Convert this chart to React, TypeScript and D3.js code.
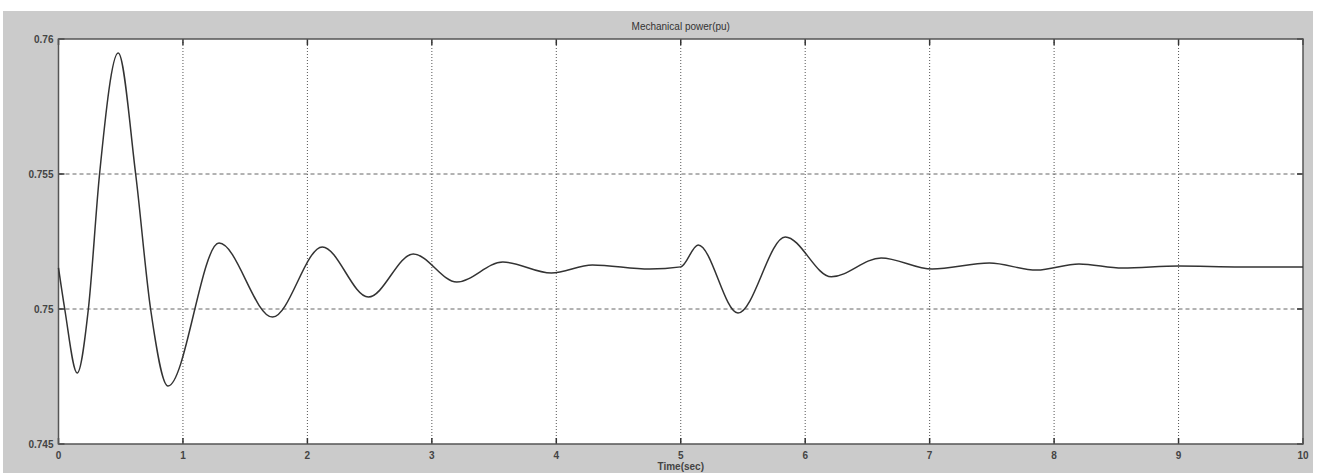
import * as d3 from "d3";

// mechanical power trace
const times = [
  0, 0.05, 0.15, 0.24, 0.33, 0.48, 0.62, 0.74, 0.88, 1.29, 1.72, 2.12, 2.49, 2.85,
  3.2, 3.57, 3.96, 4.29, 4.75, 5.0, 5.14, 5.46, 5.84, 6.21, 6.61, 7.02, 7.48, 7.86,
  8.2, 8.55, 9.0, 9.5, 10,
];
const power = [
  0.75152, 0.75, 0.74763, 0.75, 0.755, 0.75948, 0.755, 0.75, 0.74715, 0.75244,
  0.7497, 0.7523, 0.75044, 0.75204, 0.751, 0.75174, 0.75133, 0.75163, 0.75148, 0.75156,
  0.75237, 0.74985, 0.75267, 0.75119, 0.75189, 0.75148, 0.7517, 0.75144,
  0.75167, 0.75152, 0.75159, 0.75156, 0.75156,
];
const xTicks = [0, 1, 2, 3, 4, 5, 6, 7, 8, 9, 10];
const yTicks = [0.745, 0.75, 0.755, 0.76];
const yTickLabels = ["0.745", "0.75", "0.755", "0.76"];

const App = () => {
  const width = 1322;
  const height = 473;
  const left = 58.5;
  const right = 1303;
  const top = 39;
  const bottom = 444;
  const font = "'Liberation Sans', Arial, sans-serif";

  const xScale = d3.scaleLinear().domain([0, 10]).range([left, right]);
  const yScale = d3.scaleLinear().domain([0.745, 0.76]).range([bottom, top]);

  const data = times.map((t, i) => [t, power[i]] as [number, number]);
  const line = d3
    .line<[number, number]>()
    .x((d) => xScale(d[0]))
    .y((d) => yScale(d[1]))
    .curve(d3.curveMonotoneX)(data);

  return (
    <svg
      width={width}
      height={height}
      style={{ position: "absolute", left: 0, top: 0, background: "#fff" }}
    >
      <rect x={3} y={11} width={1310} height={462} fill="#cbcbcb" />
      <rect x={left} y={top} width={right - left} height={bottom - top} fill="#fff" />

      {/* grid */}
      {xTicks.slice(1, -1).map((t) => (
        <line
          key={"gx" + t}
          x1={xScale(t)}
          x2={xScale(t)}
          y1={top}
          y2={bottom}
          stroke="#555"
          strokeWidth={1}
          strokeDasharray="1,2"
        />
      ))}
      {yTicks.slice(1, -1).map((v) => (
        <line
          key={"gy" + v}
          x1={left}
          x2={right}
          y1={yScale(v)}
          y2={yScale(v)}
          stroke="#666"
          strokeWidth={1}
          strokeDasharray="4,3"
        />
      ))}

      {/* ticks */}
      {xTicks.map((t) => (
        <g key={"tx" + t}>
          <line x1={xScale(t)} x2={xScale(t)} y1={top} y2={top + 6} stroke="#333" strokeWidth={1.5} />
          <line x1={xScale(t)} x2={xScale(t)} y1={bottom} y2={bottom - 6} stroke="#333" strokeWidth={1.5} />
          <text
            x={xScale(t)}
            y={bottom + 15}
            textAnchor="middle"
            fontFamily={font}
            fontSize={10}
            fontWeight="bold"
            fill="#444"
          >
            {t}
          </text>
        </g>
      ))}
      {yTicks.map((v, i) => (
        <g key={"ty" + v}>
          <line x1={left} x2={left + 6} y1={yScale(v)} y2={yScale(v)} stroke="#333" strokeWidth={1.5} />
          <line x1={right} x2={right - 6} y1={yScale(v)} y2={yScale(v)} stroke="#333" strokeWidth={1.5} />
          <text
            x={left - 5}
            y={yScale(v) + 3.5}
            textAnchor="end"
            fontFamily={font}
            fontSize={10}
            fontWeight="bold"
            fill="#444"
          >
            {yTickLabels[i]}
          </text>
        </g>
      ))}

      <rect
        x={left}
        y={top}
        width={right - left}
        height={bottom - top}
        fill="none"
        stroke="#555"
        strokeWidth={1.5}
      />

      <path d={line ?? ""} fill="none" stroke="#333" strokeWidth={1.5} />

      <text
        x={(left + right) / 2}
        y={30}
        textAnchor="middle"
        fontFamily={font}
        fontSize={10}
        fill="#333"
      >
        Mechanical power(pu)
      </text>
      <text
        x={(left + right) / 2}
        y={470}
        textAnchor="middle"
        fontFamily={font}
        fontSize={10}
        fontWeight="bold"
        fill="#444"
      >
        Time(sec)
      </text>
    </svg>
  );
};

export default App;
